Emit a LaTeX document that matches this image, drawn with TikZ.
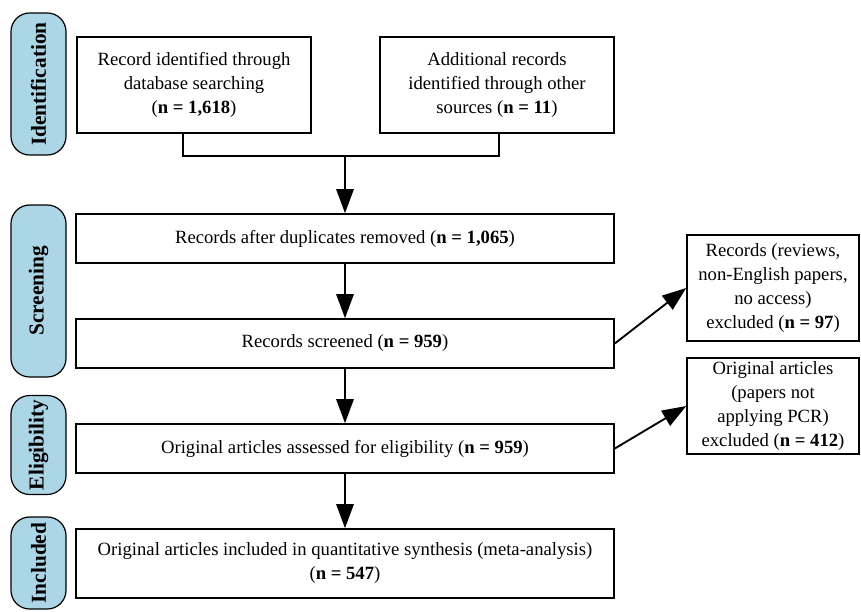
\documentclass[tikz,border=0pt]{standalone}
\usepackage{fontspec}
\setmainfont{Liberation Serif}
\usetikzlibrary{arrows.meta}
\definecolor{phaseblue}{RGB}{172,214,230}
\tikzset{
  dims/.style 2 args={minimum width=#1*0.75pt, minimum height=#2*0.75pt},
  stepbox/.style={draw, line width=1.2pt, align=center, inner sep=2pt},
  phase/.style={draw, line width=0.9pt, fill=phaseblue, rounded corners=14pt, rotate=90,
    font=\fontsize{16}{18}\selectfont\bfseries},
  flow/.style={line width=1.2pt},
  arr/.style={line width=1.4pt, -{Triangle[length=18pt,width=13pt]}}
}
\begin{document}
\begin{tikzpicture}[x=0.75pt,y=-0.75pt,
  every node/.append style={font=\fontsize{14}{18}\selectfont}]
\useasboundingbox (0,0) rectangle (861,611);

% phases on the left
\node[phase,dims={142}{55}] (ident) at (38.5,84) {Identification};
\node[phase,dims={172}{55}] (screen) at (38.5,291) {Screening};
\node[phase,dims={96}{55}] (elig) at (38.5,445) {Eligibility};
\node[phase,dims={92}{55}] (incl) at (38.5,563) {Included};

% main column
\node[stepbox,dims={234}{96}] (db) at (194,85)
  {Record identified through\\database searching\\(\textbf{n = 1,618})};
\node[stepbox,dims={234}{96}] (other) at (497,85)
  {Additional records\\identified through other\\sources (\textbf{n = 11})};
\node[stepbox,dims={538}{49}] (dedup) at (345,238.5)
  {Records after duplicates removed (\textbf{n = 1,065})};
\node[stepbox,dims={538}{49}] (screened) at (345,343.5)
  {Records screened (\textbf{n = 959})};
\node[stepbox,dims={538}{49}] (assessed) at (345,448.5)
  {Original articles assessed for eligibility (\textbf{n = 959})};
\node[stepbox,dims={538}{69}] (included) at (345,563.5)
  {Original articles included in quantitative synthesis (meta-analysis)\\(\textbf{n = 547})};

% exclusions
\node[stepbox,dims={172}{106}] (excl1) at (773,288)
  {Records (reviews,\\non-English papers,\\no access)\\excluded (\textbf{n = 97})};
\node[stepbox,dims={172}{96}] (excl2) at (773,406)
  {Original articles\\(papers not\\applying PCR)\\excluded (\textbf{n = 412})};

\coordinate (join) at (345,156);
\draw[flow] ([xshift=-8.25pt]db.south) |- (join) -| ([xshift=1.5pt]other.south);
\draw[arr] (join) -- (dedup);
\draw[arr] (dedup) -- (screened);
\draw[arr] (screened) -- (assessed);
\draw[arr] (assessed) -- (included);
\draw[arr] (screened.east) -- (excl1.west);
\draw[arr] (assessed.east) -- (excl2.west);

\end{tikzpicture}
\end{document}
